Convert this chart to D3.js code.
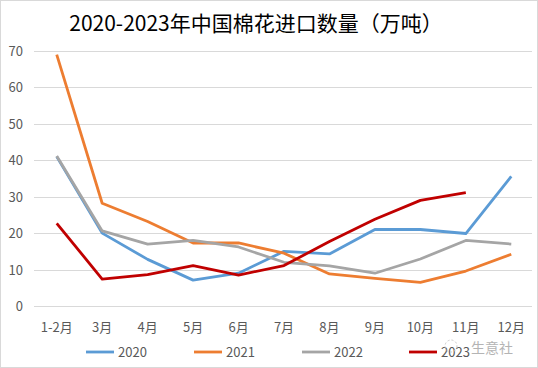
<!DOCTYPE html>
<html lang="zh">
<head>
  <meta charset="UTF-8">
  <title>2020-2023年中国棉花进口数量</title>
  <script src="https://cdn.jsdelivr.net/npm/d3@7"></script>
  <style>
    body { margin: 0; background: #fff; }
    text { font-family: "Noto Sans CJK SC", "Noto Sans", sans-serif; }
  </style>
</head>
<body>
  <svg width="538" height="368"></svg>
<script>
  const months = ["1-2月", "3月", "4月", "5月", "6月", "7月", "8月", "9月", "10月", "11月", "12月"];
  const years = ["2020", "2021", "2022", "2023"];
  const colors = ["#5B9BD5", "#ED7D31", "#A5A5A5", "#C00000"];
  const v2020 = [41, 20, 12.8, 7.1, 9, 15, 14.3, 21, 21, 19.9, 35.6];
  const v2021 = [69, 28.2, 23.2, 17.3, 17.3, 14.5, 8.8, 7.6, 6.5, 9.6, 14.2];
  const v2022 = [41.2, 20.6, 17, 18, 16.2, 12, 11, 9, 12.9, 18, 17];
  const v2023 = [22.7, 7.4, 8.6, 11.1, 8.5, 11.1, 17.7, 23.8, 29, 31.1];
  const yTicks = [0, 10, 20, 30, 40, 50, 60, 70];

  const series = [v2020, v2021, v2022, v2023];

  const svg = d3.select("svg");
  const width = +svg.attr("width");
  const height = +svg.attr("height");

  // 外框
  svg.append("rect")
    .attr("x", 0.5).attr("y", 0.5)
    .attr("width", width - 1).attr("height", height - 1)
    .attr("fill", "#fff").attr("stroke", "#d9d9d9");

  const margin = { left: 34, right: 4, top: 51, bottom: 62 };

  const x = d3.scaleBand().domain(months).range([margin.left, width - margin.right]);
  const y = d3.scaleLinear().domain([0, 70]).range([height - margin.bottom, margin.top]);

  // 标题
  svg.append("text")
    .attr("x", 256).attr("y", 31)
    .attr("text-anchor", "middle")
    .attr("font-size", "21px")
    .attr("fill", "#000")
    .text("2020-2023年中国棉花进口数量（万吨）");

  // 网格线
  svg.append("g")
    .selectAll("line")
    .data(yTicks)
    .join("line")
    .attr("x1", margin.left).attr("x2", width - 6)
    .attr("y1", d => Math.round(y(d)) + 0.5)
    .attr("y2", d => Math.round(y(d)) + 0.5)
    .attr("stroke", "#d9d9d9");

  svg.append("g")
    .selectAll("text")
    .data(yTicks)
    .join("text")
    .attr("x", 23)
    .attr("y", d => y(d) + 5)
    .attr("text-anchor", "end")
    .attr("font-size", "13px")
    .attr("fill", "#595959")
    .text(d => d);

  svg.append("g")
    .selectAll("text")
    .data(months)
    .join("text")
    .attr("x", d => x(d) + x.bandwidth() / 2)
    .attr("y", 332)
    .attr("text-anchor", "middle")
    .attr("font-size", "13px")
    .attr("fill", "#595959")
    .text(d => d);

  // 折线
  const line = d3.line()
    .x((d, i) => x(months[i]) + x.bandwidth() / 2)
    .y(d => y(d));

  svg.append("g")
    .selectAll("path")
    .data(series)
    .join("path")
    .attr("d", d => line(d))
    .attr("fill", "none")
    .attr("stroke", (d, i) => colors[i])
    .attr("stroke-width", 2.8)
    .attr("stroke-linejoin", "round");

  // 图例
  const legendX = [86, 194, 302, 409];
  const lg = svg.append("g")
    .selectAll("g")
    .data(years)
    .join("g")
    .attr("transform", (d, i) => "translate(" + legendX[i] + ",352)");

  lg.append("line")
    .attr("x1", 0).attr("x2", 28)
    .attr("stroke", (d, i) => colors[i])
    .attr("stroke-width", 2.8);

  lg.append("text")
    .attr("x", 32).attr("y", 5)
    .attr("font-size", "13px")
    .attr("fill", "#595959")
    .text(d => d);

  // 水印
  svg.append("circle")
    .attr("cx", 451).attr("cy", 346).attr("r", 6)
    .attr("fill", "none")
    .attr("stroke", "#c8c8c8")
    .attr("stroke-dasharray", "2,2");

  svg.append("text")
    .attr("x", 471).attr("y", 353)
    .attr("font-size", "14px")
    .attr("fill", "#a8a8a8")
    .attr("opacity", 0.85)
    .text("生意社");
</script>
</body>
</html>
